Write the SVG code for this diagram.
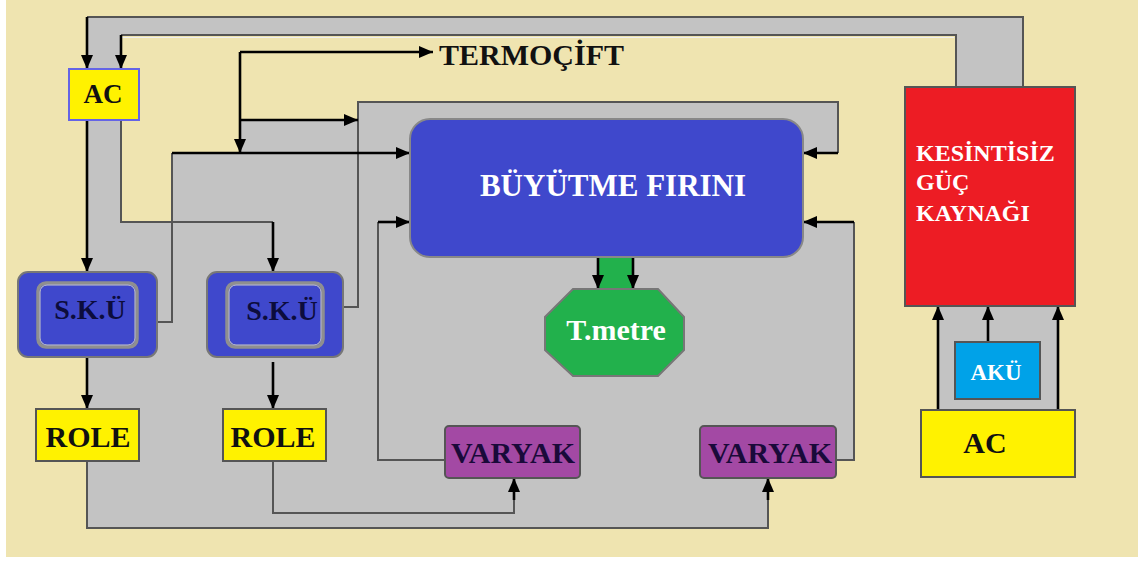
<svg xmlns="http://www.w3.org/2000/svg" width="1146" height="563" viewBox="0 0 1146 563">
<style>
.t{font-family:"Liberation Serif","Times New Roman",serif;font-weight:bold}
.thin{fill:none;stroke:#555;stroke-width:2}
.blk{fill:none;stroke:#000;stroke-width:2.6}
.arr{fill:none;stroke:#000;stroke-width:2.6;marker-end:url(#ah)}
.box{stroke:#555;stroke-width:2}
</style>
<defs>
<marker id="ah" viewBox="0 0 14 12" refX="14" refY="6" markerWidth="14" markerHeight="12" markerUnits="userSpaceOnUse" orient="auto">
<path d="M0,0 L14,6 L0,12 z" fill="#000"/>
</marker>
</defs>
<rect x="0" y="0" width="1146" height="563" fill="#fff"/>
<rect x="6" y="0" width="1132" height="557" fill="#EFE4B0"/>
<path id="grayfill" d="M87,17 H1023 V87 H956 V35 H121 V222 H172 V153 H240 V120 H358 V102 H838 V153 H803 V222 H854 V460 H836 V478 H768 V528 H87 Z" fill="#C3C3C3"/>
<rect x="938" y="300" width="120" height="112" fill="#C3C3C3"/>

<g id="connectors">
<path class="thin" d="M87,17 H1023 V87"/>
<path class="thin" d="M121,35 H956 V87"/>
<path d="M122,37.5 H954" stroke="#eee" stroke-width="1.2" fill="none"/>
<path class="thin" d="M121,120 V222 H273"/>
<path class="thin" d="M157,322 H172 V153"/>
<path class="thin" d="M343,307 H358 V102 H838 V153"/>
<path class="thin" d="M445,460 H378 V222"/>
<path class="thin" d="M836,460 H854 V222"/>
<path class="thin" d="M87,461 V528 H768 V495"/>
<path class="thin" d="M273,461 V513 H514 V495"/>
<path class="arr" d="M87,17 V69"/>
<path class="arr" d="M121,35 V69"/>
<path class="arr" d="M87,120 V272"/>
<path class="arr" d="M273,222 V272"/>
<path class="arr" d="M240,52 V153"/>
<path class="arr" d="M240,52 H433"/>
<path class="arr" d="M240,120 H358"/>
<path class="arr" d="M172,153 H410"/>
<path class="arr" d="M838,153 H803"/>
<path class="arr" d="M378,222 H410"/>
<path class="arr" d="M854,222 H803"/>
<path class="arr" d="M87,357 V409"/>
<path class="arr" d="M273,362 V409"/>
<path class="arr" d="M514,500 V478"/>
<path class="arr" d="M768,500 V478"/>
<rect x="598" y="257" width="35" height="33" fill="#22B14C"/>
<path class="arr" d="M598,257 V289"/>
<path class="arr" d="M633,257 V289"/>
<path class="arr" d="M938,410 V306"/>
<path class="arr" d="M988,342 V306"/>
<path class="arr" d="M1058,410 V306"/>
</g>

<g id="ac-top">
<rect x="69" y="69" width="70" height="51" fill="#FFF200" stroke="#6464E6" stroke-width="2"/>
<text class="t" x="103" y="103" font-size="27" text-anchor="middle" fill="#111">AC</text>
</g>

<g id="termocift">
<text class="t" x="439" y="65" font-size="30" fill="#111">TERMOÇİFT</text>
</g>

<g id="buyutme-firini">
<rect x="410" y="119" width="393" height="138" rx="20" fill="#3F48CC" stroke="#888" stroke-width="2"/>
<text class="t" x="613" y="196" font-size="31" text-anchor="middle" fill="#fff">BÜYÜTME FIRINI</text>
</g>

<g id="sku1">
<rect x="18" y="272" width="139" height="85" rx="10" fill="#3F48CC" stroke="#777" stroke-width="2"/>
<rect x="38" y="283" width="99" height="64" rx="8" fill="#3F48CC" stroke="#8f8f8f" stroke-width="3.5"/>
<rect x="40" y="285" width="95" height="60" rx="7" fill="none" stroke="#c8c8c8" stroke-width="1"/>
<text class="t" x="90" y="319" font-size="28" text-anchor="middle" fill="#0c0c3c">S.K.Ü</text>
</g>

<g id="sku2">
<rect x="207" y="272" width="136" height="85" rx="10" fill="#3F48CC" stroke="#777" stroke-width="2"/>
<rect x="227" y="283" width="96" height="64" rx="8" fill="#3F48CC" stroke="#8f8f8f" stroke-width="3.5"/>
<rect x="229" y="285" width="92" height="60" rx="7" fill="none" stroke="#c8c8c8" stroke-width="1"/>
<text class="t" x="282" y="320" font-size="28" text-anchor="middle" fill="#0c0c3c">S.K.Ü</text>
</g>

<g id="role1">
<rect class="box" x="36" y="409" width="103" height="52" fill="#FFF200"/>
<text class="t" x="88" y="447" font-size="30" text-anchor="middle" fill="#111">ROLE</text>
</g>

<g id="role2">
<rect class="box" x="223" y="409" width="103" height="52" fill="#FFF200"/>
<text class="t" x="273" y="447" font-size="30" text-anchor="middle" fill="#111">ROLE</text>
</g>

<g id="tmetre">
<polygon points="573,289 658,289 684,317 684,350 658,376 573,376 545,350 545,317" fill="#22B14C" stroke="#777" stroke-width="2"/>
<text class="t" x="616" y="340" font-size="30" text-anchor="middle" fill="#fff">T.metre</text>
</g>

<g id="varyak1">
<rect class="box" x="445" y="426" width="135" height="52" rx="4" fill="#A349A4"/>
<text class="t" x="513" y="463" font-size="30" text-anchor="middle" fill="#1a0a3a">VARYAK</text>
</g>

<g id="varyak2">
<rect class="box" x="700" y="426" width="136" height="52" rx="4" fill="#A349A4"/>
<text class="t" x="770" y="463" font-size="30" text-anchor="middle" fill="#1a0a3a">VARYAK</text>
</g>

<g id="kgk">
<rect class="box" x="905" y="87" width="170" height="219" fill="#ED1C24"/>
<text class="t" x="916" y="161" font-size="24" fill="#fff">KESİNTİSİZ</text>
<text class="t" x="916" y="190" font-size="24" fill="#fff">GÜÇ</text>
<text class="t" x="916" y="221" font-size="24" fill="#fff">KAYNAĞI</text>
</g>

<g id="aku">
<rect class="box" x="955" y="342" width="85" height="57" fill="#00A2E8"/>
<text class="t" x="996" y="380" font-size="23" text-anchor="middle" fill="#fff">AKÜ</text>
</g>

<g id="ac-right">
<rect class="box" x="921" y="410" width="154" height="67" fill="#FFF200"/>
<text class="t" x="985" y="453" font-size="30" text-anchor="middle" fill="#111">AC</text>
</g>
</svg>
